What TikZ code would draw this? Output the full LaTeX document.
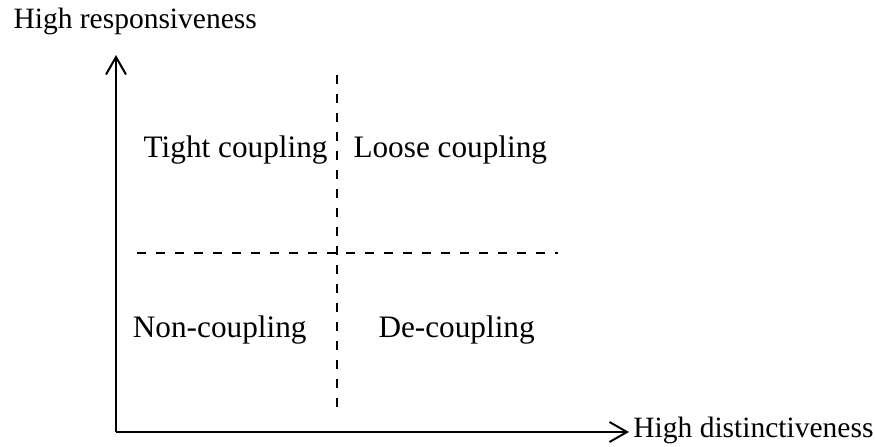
\documentclass[tikz,border=0pt]{standalone}
\usepackage{fontspec}
\setmainfont{Liberation Serif}
\usepackage{tikz}
\usetikzlibrary{arrows.meta, positioning}

\begin{document}
\begin{tikzpicture}[
  x=0.4pt, y=-0.4pt,
  axis/.style={line width=0.8pt, -{Straight Barb[length=7pt, width=8pt, line width=0.8pt]}},
  divider/.style={line width=0.8pt, dash pattern=on 3.6pt off 4pt},
  axislabel/.style={inner sep=0pt, font=\fontsize{11.8}{14}\selectfont},
  quad/.style={inner sep=0pt, font=\fontsize{12.5}{15}\selectfont}
]
\useasboundingbox (0,0) rectangle (875,447);

% Axes
\coordinate (origin) at (116,432);
\coordinate (ytop) at (116,55);
\coordinate (xend) at (629,432);
\draw[axis] (origin) -- (ytop);
\draw[axis] (origin) -- (xend);
\node[axislabel, anchor=base west] (ylabel) at (13,28) {High responsiveness};
\node[axislabel, anchor=base east] (xlabel) at (874,437) {High distinctiveness};

% Quadrant dividers
\coordinate (vtop) at (337,75);
\coordinate (vbot) at (337,411);
\coordinate (hleft) at (137,253);
\coordinate (hright) at (558,253);
\draw[divider] (vtop) -- (vbot);
\draw[divider] (hleft) -- (hright);

% Quadrants
\node[quad, anchor=base east] (tight) at (328,157) {Tight coupling};
\node[quad, anchor=base west] (loose) at (353,157) {Loose coupling};
\node[quad, anchor=base east] (non) at (307,337) {Non-coupling};
\node[quad, anchor=base west] (de) at (378,337) {De-coupling};

\end{tikzpicture}
\end{document}
